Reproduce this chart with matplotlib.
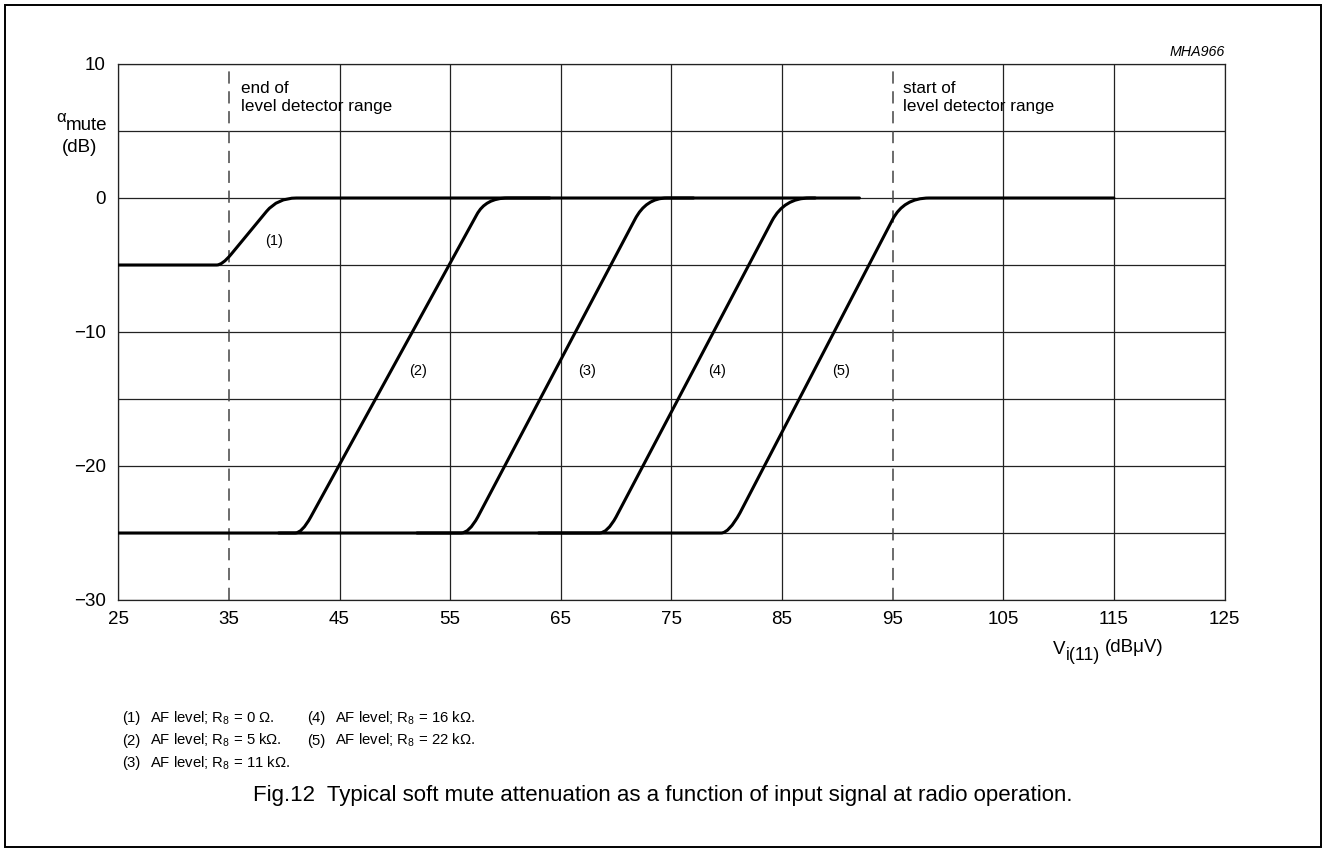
import numpy as np
import matplotlib
matplotlib.use("Agg")
import matplotlib.pyplot as plt
from matplotlib.path import Path
from matplotlib.patches import PathPatch, Rectangle

plt.rcParams['font.family'] = ['Liberation Sans', 'DejaVu Sans']
plt.rcParams['mathtext.fontset'] = 'custom'
plt.rcParams['mathtext.rm'] = 'Liberation Sans'
plt.rcParams['mathtext.it'] = 'Liberation Sans:italic'

# curve vertices (V_i in dBuV, attenuation in dB)
# each curve: flat, rounded corner, linear rise, rounded corner, flat at 0 dB
curve1_x = [25, 33.9, 34.4, 35.2, 38.4, 39.4, 41.1, 64]
curve1_y = [-5, -5, -5, -4.2, -1.0, 0, 0, 0]
curve2_x = [25, 41.0, 41.6, 42.4, 57.4, 58.2, 60.2, 77]
curve2_y = [-25, -25, -25, -23.8, -1.25, 0, 0, 0]
curve3_x = [39.5, 56.0, 56.7, 57.5, 71.7, 72.7, 74.6, 88]
curve3_y = [-25, -25, -25, -23.8, -1.6, 0, 0, 0]
curve4_x = [52, 68.5, 69.2, 70.0, 84.1, 85.2, 87.5, 92]
curve4_y = [-25, -25, -25, -23.8, -1.7, 0, 0, 0]
curve5_x = [63, 79.5, 80.2, 81.2, 95.0, 96.0, 98.3, 115]
curve5_y = [-25, -25, -25, -23.5, -1.6, 0, 0, 0]

curve_labels = ['(1)', '(2)', '(3)', '(4)', '(5)']
label_x = [39.1, 52.1, 67.4, 79.1, 90.3]
label_y = [-3.2, -12.9, -12.9, -12.9, -12.9]

x_ticks = [25, 35, 45, 55, 65, 75, 85, 95, 105, 115, 125]
y_ticks = [-30, -25, -20, -15, -10, -5, 0, 5, 10]
y_tick_labels = ['\u221230', '', '\u221220', '', '\u221210', '', '0', '', '10']
range_marks = [35, 95]

legend_left = ['(1)', '(2)', '(3)']
legend_left_txt = [r'AF level; R$\mathregular{_8}$ = 0 $\mathregular{\Omega}$.',
                   r'AF level; R$\mathregular{_8}$ = 5 k$\mathregular{\Omega}$.',
                   r'AF level; R$\mathregular{_8}$ = 11 k$\mathregular{\Omega}$.']
legend_right = ['(4)', '(5)']
legend_right_txt = [r'AF level; R$\mathregular{_8}$ = 16 k$\mathregular{\Omega}$.',
                    r'AF level; R$\mathregular{_8}$ = 22 k$\mathregular{\Omega}$.']

W, H = 1325, 851
fig = plt.figure(figsize=(W / 100, H / 100), dpi=100)
ax = fig.add_axes([118.3 / W, 251 / H, 1106.2 / W, 536 / H])

ax.set_xlim(25, 125)
ax.set_ylim(-30, 10)
ax.set_xticks(x_ticks)
ax.set_yticks(y_ticks)
ax.set_yticklabels(y_tick_labels)
ax.tick_params(length=0, labelsize=13.5)
ax.tick_params(axis='x', pad=8)
ax.tick_params(axis='y', pad=9)
ax.grid(True, color='#222222', lw=0.9)
for gl, xv in zip(ax.get_xgridlines(), x_ticks):
    if xv in range_marks:
        gl.set_visible(False)
for sp in ax.spines.values():
    sp.set_color('#222222')
    sp.set_linewidth(0.9)

for xv in range_marks:
    ax.axvline(xv, color='#444444', lw=1.1, linestyle=(0, (8, 5)), zorder=2)

codes = [Path.MOVETO, Path.LINETO, Path.CURVE3, Path.CURVE3,
         Path.LINETO, Path.CURVE3, Path.CURVE3, Path.LINETO]
for cx, cy in [(curve1_x, curve1_y), (curve2_x, curve2_y), (curve3_x, curve3_y),
               (curve4_x, curve4_y), (curve5_x, curve5_y)]:
    p = Path(np.column_stack([cx, cy]), codes)
    ax.add_patch(PathPatch(p, facecolor='none', edgecolor='black', lw=2.2,
                           capstyle='round', joinstyle='round', zorder=3))

for t, lx, ly in zip(curve_labels, label_x, label_y):
    ax.text(lx, ly, t, fontsize=10.5, ha='center', va='center', zorder=4)

ax.text(36.1, 8.75, 'end of\nlevel detector range', fontsize=12.3,
        va='top', ha='left', linespacing=1.25)
ax.text(95.9, 8.75, 'start of\nlevel detector range', fontsize=12.3,
        va='top', ha='left', linespacing=1.25)
ax.text(1.0, 1.01, 'MHA966', transform=ax.transAxes, fontsize=10.3,
        style='italic', ha='right', va='bottom')

# axis labels
fig.text(66 / W, 1 - 118 / H, '\u03b1', fontsize=12, ha='right', va='center')
fig.text(66 / W, 1 - 125 / H, 'mute', fontsize=13.5, ha='left', va='center')
fig.text(80 / W, 1 - 147 / H, '(dB)', fontsize=13.5, ha='center', va='center')
fig.text(1053 / W, 1 - 649 / H, 'V', fontsize=13.5, ha='left', va='center')
fig.text(1066 / W, 1 - 656 / H, 'i(11)', fontsize=12.8, ha='left', va='center')
fig.text(1105 / W, 1 - 648 / H, '(dB\u03bcV)', fontsize=13.5, ha='left', va='center')

# notes under the chart
for i, (n, t) in enumerate(zip(legend_left, legend_left_txt)):
    y = 1 - (718 + 22.5 * i) / H
    fig.text(122 / W, y, n, fontsize=10.7, va='center')
    fig.text(150 / W, y, t, fontsize=10.7, va='center')
for i, (n, t) in enumerate(zip(legend_right, legend_right_txt)):
    y = 1 - (718 + 22.5 * i) / H
    fig.text(307 / W, y, n, fontsize=10.7, va='center')
    fig.text(335 / W, y, t, fontsize=10.7, va='center')

fig.text(0.5, 1 - 795 / H,
         'Fig.12  Typical soft mute attenuation as a function of input signal at radio operation.',
         fontsize=16, ha='center', va='center')

fig.patches.append(Rectangle((5 / W, 4 / H), 1316 / W, 842 / H, transform=fig.transFigure,
                             fill=False, edgecolor='black', lw=1.4))

fig.savefig('out.png', dpi=100)
